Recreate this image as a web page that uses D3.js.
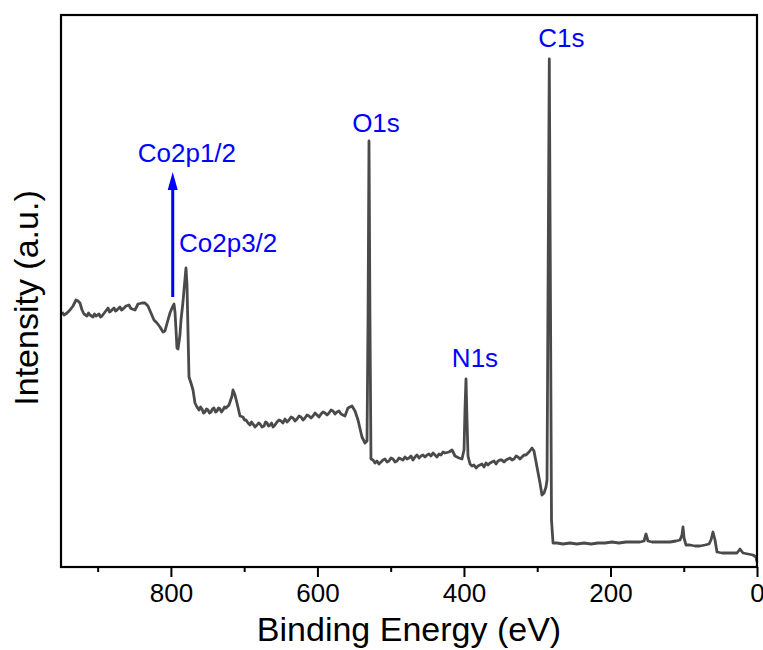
<!DOCTYPE html>
<html>
<head>
<meta charset="utf-8">
<script src="https://cdn.jsdelivr.net/npm/d3@7"></script>
<style>
  body { margin: 0; background: #fff; }
  text { font-family: "Liberation Sans", Arial, sans-serif; }
</style>
</head>
<body>
<div id="chart"></div>
<script>
// XPS survey spectrum
var energy = [948.6, 945.9, 941.8, 937.7, 933.6, 929.5, 926.8, 924.1, 921.3, 918.6,
  914.5, 912.4, 910.4, 906.3, 904.2, 902.2, 898.1, 896.0, 894.0, 889.9, 885.8, 883.8, 881.8, 877.7,
  875.6, 873.6, 869.5, 867.4, 865.4, 861.3, 857.2, 855.1, 853.1, 849.0, 844.9, 839.4, 835.4,
  831.3, 827.2, 823.1, 819.0, 814.9, 810.8, 808.1, 804.0, 801.2, 798.5,
  795.8, 794.4, 793.0, 791.7, 790.3, 787.6, 786.2, 783.5, 782.1, 779.4,
  778.0, 776.7, 775.3, 772.6, 769.8, 767.1, 764.4, 761.6, 759.5, 757.5, 755.5, 753.5,
  751.4, 749.4, 747.3, 745.3, 743.2, 741.2, 739.1, 737.1, 735.0, 733.0, 730.9, 728.9, 726.8, 724.8, 720.7, 716.6, 715.2,
  712.5, 709.8, 705.7, 701.6, 699.5, 697.5, 694.7, 692.0, 689.9, 687.9, 685.2, 682.5, 680.4, 678.4, 675.6, 672.9,
  670.8, 668.8, 666.7, 664.7, 662.6, 660.6, 657.9, 655.2, 652.4, 649.7, 647.0, 644.3, 641.5, 638.8, 636.0, 633.3, 630.6, 627.9, 625.1, 622.4,
  619.7, 617.0, 614.2, 611.5, 608.7, 606.0, 603.3, 600.6, 597.8, 595.1, 592.4, 589.7, 586.9, 584.2, 581.4, 578.7, 576.0, 573.3, 570.5, 567.8,
  562.4, 558.3, 552.8, 548.7, 544.6, 539.2, 535.1, 532.3, 530.9, 529.6,
  528.3, 526.9, 524.1, 521.4, 518.7, 516.0, 513.2, 510.5, 507.8, 505.0, 502.3, 499.6, 496.8, 494.1, 491.4, 488.6, 485.9,
  483.2, 480.5, 477.7, 475.0, 472.3, 469.5, 466.8, 464.1, 461.3, 458.6, 455.9, 453.2, 450.4, 447.7, 445.0, 442.2, 439.5, 436.8, 434.1, 431.3,
  428.6, 425.9, 420.4, 416.3, 412.2, 406.8, 402.7, 399.9, 398.6, 397.2, 395.8,
  394.5, 391.7, 389.0, 386.3, 383.5, 380.8, 378.1, 375.4, 372.6, 369.9, 367.2, 364.4, 361.7, 359.0, 356.2, 353.5, 350.8, 348.1,
  345.3, 342.6, 339.9, 337.1, 334.4, 331.7, 328.9, 326.2, 323.5, 320.8, 318.0, 315.3, 311.2, 307.1, 304.4, 300.3,
  296.2, 293.5, 290.7, 288.0, 286.6, 285.3, 283.5, 281.9, 280.5, 278.4,
  273.0, 264.8, 255.3, 245.7, 236.1, 226.6, 217.0, 207.5, 197.9, 188.4,
  178.8, 169.3, 159.7, 154.2, 151.5, 148.8, 143.3, 135.1, 126.9, 118.8,
  110.6, 105.1, 102.4, 101.0, 99.6, 96.9, 91.5, 84.6, 77.8, 71.0,
  65.5, 62.8, 60.1, 57.3, 54.6, 47.8, 40.9, 34.1, 27.3, 23.2,
  19.1, 12.3, 5.5, 1.4, 0.0];

var intensity = [255, 252, 254, 257, 261, 267, 266, 264, 257, 253,
  251, 254, 252, 250, 253, 251, 253, 250, 251, 255, 259, 255, 256, 259,
  256, 257, 260, 257, 258, 261, 262, 259, 258, 257, 263, 264, 264,
  261, 254, 247, 244, 240, 235, 236, 247, 254, 259,
  263, 255, 237, 219, 218, 232, 247, 265, 277, 299,
  282, 237, 190, 184, 177, 164, 160, 157, 160, 158, 154, 155,
  158, 157, 154, 155, 158, 159, 155, 156, 159, 158, 155, 157, 160, 159, 162, 171, 177,
  172, 164, 151, 150, 147, 147, 144, 142, 145, 143, 140, 142, 144, 143, 140, 141,
  145, 144, 141, 142, 144, 140, 142, 145, 147, 146, 144, 148, 145, 147, 150, 149, 146, 148, 151, 150,
  147, 149, 152, 151, 149, 151, 154, 152, 150, 153, 155, 154, 152, 154, 157, 156, 153, 155, 156, 153,
  151, 159, 161, 156, 147, 130, 124, 126, 250, 426,
  250, 108, 107, 104, 106, 103, 105, 107, 108, 105, 106, 109, 108, 105, 106, 109, 108,
  107, 110, 108, 109, 111, 107, 110, 112, 109, 111, 112, 110, 112, 113, 111, 114, 112, 110, 113, 112,
  115, 114, 115, 117, 111, 109, 108, 117, 157, 188, 147,
  111, 103, 101, 102, 99, 101, 102, 103, 100, 104, 102, 104, 105, 106, 103, 106, 107, 107,
  105, 107, 108, 109, 107, 108, 111, 110, 108, 110, 112, 112, 115, 119, 116, 100,
  84, 72, 74, 80, 87, 267, 508, 267, 47, 24,
  24, 23, 24, 23, 24, 23, 24, 24, 25, 24,
  25, 25, 25, 26, 33, 26, 25, 25, 25, 25,
  26, 27, 32, 40, 29, 22, 22, 21, 21, 22,
  23, 27, 35, 27, 15, 14, 14, 14, 14, 18,
  14, 13, 12, 10, 5];

var xTicks = [800, 600, 400, 200, 0];
var xMinorTicks = [900, 700, 500, 300, 100];

var peakNames = ["C1s", "O1s", "N1s", "Co2p3/2"];
var peakEnergies = [283.5, 529.6, 397.2, 779.4];
var arrowName = "Co2p1/2";
var arrowEnergy = 797.5;

var width = 763;
var height = 650;
var margin = {top: 15, right: 6, bottom: 83, left: 61};
var innerW = width - margin.left - margin.right;
var innerH = height - margin.top - margin.bottom;

var svg = d3.select("#chart")
  .append("svg")
  .attr("width", width)
  .attr("height", height);

var g = svg.append("g")
  .attr("transform", `translate(${margin.left},${margin.top})`);

var x = d3.scaleLinear().domain([950, 0]).range([0, innerW]);
var y = d3.scaleLinear().domain([0, 552]).range([innerH, 0]);

var data = energy.map((e, i) => ({e: e, v: intensity[i]}));

// spectrum
var line = d3.line().x(d => x(d.e)).y(d => y(d.v));
g.append("path")
  .datum(data)
  .attr("fill", "none")
  .attr("stroke", "#4a4a4a")
  .attr("stroke-width", 2.8)
  .attr("stroke-linejoin", "round")
  .attr("d", line);

// minor ticks
g.append("g")
  .attr("transform", `translate(0,${innerH})`)
  .call(d3.axisBottom(x).tickValues(xMinorTicks).tickSize(5).tickFormat(""))
  .call(a => a.select(".domain").remove())
  .selectAll("line").attr("stroke", "#000").attr("stroke-width", 2);

// major ticks + labels
var xAxis = g.append("g")
  .attr("transform", `translate(0,${innerH})`)
  .call(d3.axisBottom(x).tickValues(xTicks).tickSize(10).tickPadding(7).tickFormat(d3.format("d")));
xAxis.select(".domain").remove();
xAxis.selectAll("line").attr("stroke", "#000").attr("stroke-width", 2);
xAxis.selectAll("text")
  .attr("fill", "#000")
  .style("font-size", "26px");

// frame
g.append("rect")
  .attr("width", innerW)
  .attr("height", innerH)
  .attr("fill", "none")
  .attr("stroke", "#000")
  .attr("stroke-width", 2.2);

// axis titles
svg.append("text")
  .attr("x", margin.left + innerW / 2)
  .attr("y", 641)
  .attr("text-anchor", "middle")
  .style("font-size", "34px")
  .text("Binding Energy (eV)");

svg.append("text")
  .attr("transform", "translate(38," + 298 + ")rotate(-90)")
  .attr("text-anchor", "middle")
  .style("font-size", "34px")
  .text("Intensity (a.u.)");

// peak labels
var labelOffsets = [[12, -12, "middle"], [7, -9, "middle"], [9, -12, "middle"], [-7, -16, "start"]];
peakNames.forEach((name, i) => {
  var idx = energy.indexOf(peakEnergies[i]);
  g.append("text")
    .attr("x", x(peakEnergies[i]) + labelOffsets[i][0])
    .attr("y", y(intensity[idx]) + labelOffsets[i][1])
    .attr("text-anchor", labelOffsets[i][2])
    .attr("fill", "#0000ff")
    .style("font-size", "26px")
    .text(name);
});

// Co2p1/2 arrow
var ax = x(arrowEnergy);
g.append("line")
  .attr("x1", ax).attr("x2", ax)
  .attr("y1", 282).attr("y2", 172)
  .attr("stroke", "#0000ff")
  .attr("stroke-width", 3);
g.append("path")
  .attr("d", `M${ax},157 L${ax + 5},175 L${ax - 5},175 Z`)
  .attr("fill", "#0000ff");

g.append("text")
  .attr("x", ax - 35)
  .attr("y", 147)
  .attr("fill", "#0000ff")
  .style("font-size", "26px")
  .text(arrowName);
</script>
</body>
</html>
